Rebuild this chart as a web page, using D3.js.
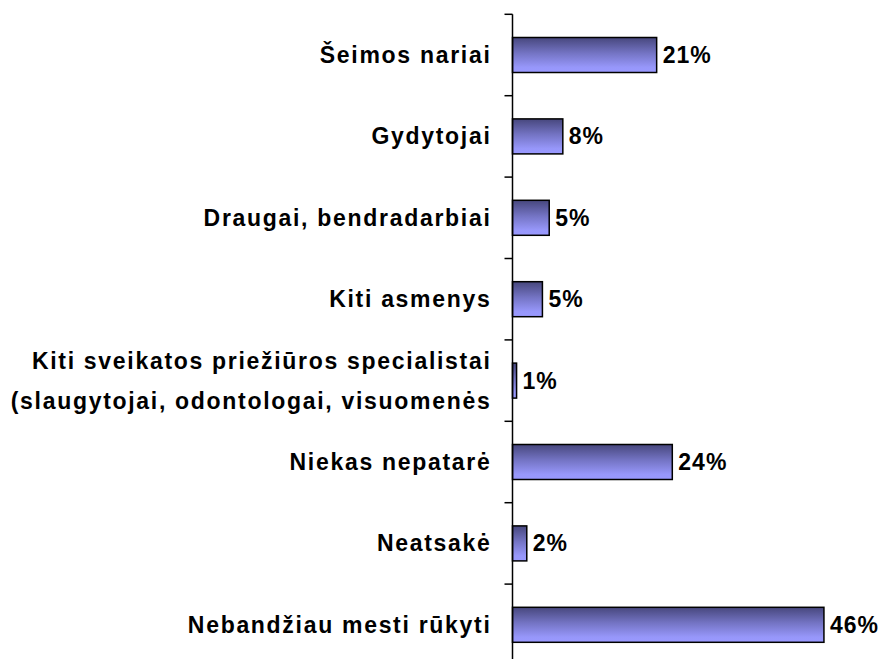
<!DOCTYPE html>
<html>
    <head>
        <meta charset="utf-8">
        <script src="https://cdn.jsdelivr.net/npm/d3@7"></script>
        <style>
            body { margin: 0; background: #fff; }
            text { font-family: "Liberation Sans", Arial, sans-serif; font-weight: bold; font-size: 23px; fill: #000; }
            text.cat { letter-spacing: 1.7px; }
            text.val { letter-spacing: 1px; }
        </style>
    </head>
    <body>
        <div id="chart"></div>
        <script>
            // atsakymu kategorijos (kiekviena eilute - viena juosta)
            var categories = [
                ["Šeimos nariai"],
                ["Gydytojai"],
                ["Draugai, bendradarbiai"],
                ["Kiti asmenys"],
                ["Kiti sveikatos priežiūros specialistai", "(slaugytojai, odontologai, visuomenės"],
                ["Niekas nepatarė"],
                ["Neatsakė"],
                ["Nebandžiau mesti rūkyti"]
            ];
            var values = [21.2, 7.4, 5.4, 4.4, 0.6, 23.5, 2.1, 45.8];
            var valueLabels = ["21%", "8%", "5%", "5%", "1%", "24%", "2%", "46%"];

            var width = 886, height = 659;
            var x0 = 512.5;

            var svg = d3.select("#chart").append("svg")
                .attr("width", width)
                .attr("height", height);

            var grad = svg.append("defs").append("linearGradient")
                .attr("id", "barFill")
                .attr("x1", 0).attr("y1", 0).attr("x2", 0).attr("y2", 1);
            grad.append("stop").attr("offset", "0%").attr("stop-color", "#47477d");
            grad.append("stop").attr("offset", "45%").attr("stop-color", "#7474c4");
            grad.append("stop").attr("offset", "85%").attr("stop-color", "#9797fa");
            grad.append("stop").attr("offset", "100%").attr("stop-color", "#9999ff");

            var idx = d3.range(values.length);

            var x = d3.scaleLinear()
                .domain([0, 50])
                .range([x0, x0 + 340]);

            var y = d3.scaleBand()
                .domain(idx)
                .range([14.3, 14.3 + 8 * 81.4])
                .paddingInner(0.57)
                .paddingOuter(0.285);

            // juostos
            svg.selectAll("rect.bar")
                .data(idx)
                .enter().append("rect")
                .attr("class", "bar")
                .attr("x", x(0))
                .attr("y", function(i) { return y(i); })
                .attr("width", function(i) { return x(values[i]) - x(0); })
                .attr("height", y.bandwidth())
                .attr("fill", "url(#barFill)")
                .attr("stroke", "#000")
                .attr("stroke-width", 1.5);

            // asis ir padalos tarp kategoriju
            var step = y.step();
            var tickY = d3.range(values.length + 1).map(function(k) {
                return y(0) - (step - y.bandwidth()) / 2 + k * step;
            });

            svg.append("line")
                .attr("x1", x(0)).attr("x2", x(0))
                .attr("y1", tickY[0]).attr("y2", height)
                .attr("stroke", "#000").attr("stroke-width", 1.5);

            svg.selectAll("line.tick")
                .data(tickY)
                .enter().append("line")
                .attr("class", "tick")
                .attr("x1", x(0) - 8).attr("x2", x(0))
                .attr("y1", function(d) { return d; })
                .attr("y2", function(d) { return d; })
                .attr("stroke", "#000").attr("stroke-width", 1.5);

            // kategoriju pavadinimai
            var lab = svg.selectAll("text.cat")
                .data(idx)
                .enter().append("text")
                .attr("class", "cat")
                .attr("text-anchor", "end")
                .attr("y", function(i) { return y(i) + y.bandwidth() / 2; });

            lab.selectAll("tspan")
                .data(function(i) {
                    var lines = categories[i];
                    return lines.map(function(t, k) {
                        return { t: t, dy: (k - (lines.length - 1) / 2) * 40 };
                    });
                })
                .enter().append("tspan")
                .attr("x", 491.5)
                .attr("dy", function(d, k) { return k === 0 ? d.dy + 8 : 40; })
                .text(function(d) { return d.t; });

            // reiksmes
            svg.selectAll("text.val")
                .data(idx)
                .enter().append("text")
                .attr("class", "val")
                .attr("x", function(i) { return x(values[i]) + 6; })
                .attr("y", function(i) { return y(i) + y.bandwidth() / 2 + 8; })
                .text(function(i) { return valueLabels[i]; });
        </script>
    </body>
</html>
